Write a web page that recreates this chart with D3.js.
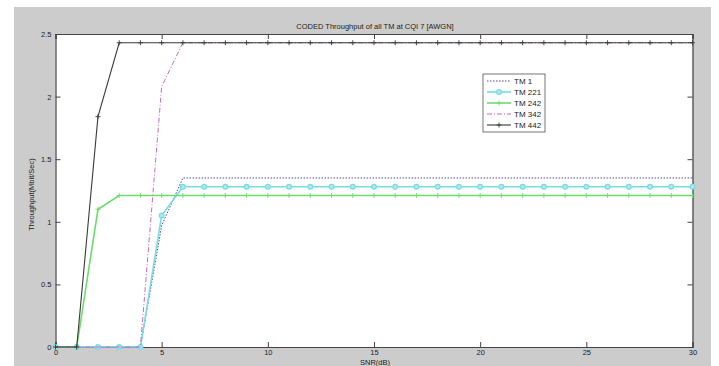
<!DOCTYPE html>
<html>
<head>
<meta charset="utf-8">
<script src="https://cdn.jsdelivr.net/npm/d3@7"></script>
<style>
  html, body { margin: 0; padding: 0; background: #ffffff; }
  svg { display: block; font-family: "Liberation Sans", Arial, sans-serif; }
</style>
</head>
<body>
<svg id="chart" width="719" height="366"></svg>
<script>
// ---- data ----
const snr = d3.range(0, 31); // 0..30 dB
const tm1   = [0, 0, 0, 0, 0, 0.97, 1.35].concat(Array(24).fill(1.35));
const tm221 = [0, 0, 0, 0, 0, 1.05, 1.28].concat(Array(24).fill(1.28));
const tm242 = [0, 0, 1.10, 1.21].concat(Array(27).fill(1.21));
const tm342 = [0, 0, 0, 0, 0, 2.08, 2.43].concat(Array(24).fill(2.43));
const tm442 = [0, 0, 1.84, 2.43].concat(Array(27).fill(2.43));
const seriesNames = ["TM 1", "TM 221", "TM 242", "TM 342", "TM 442"];
const xTicks = [0, 5, 10, 15, 20, 25, 30];
const yTicks = [0, 0.5, 1, 1.5, 2, 2.5];
const titleText = "CODED Throughput of all TM at CQI 7 [AWGN]";
const xLabel = "SNR(dB)";
const yLabel = "Throughput(Mbit/Sec)";

// ---- styles ----
const styles = [
  { values: tm1,   color: "#4a4aa0", width: 1, dash: "1.5,1.5", marker: null },
  { values: tm221, color: "#7adbe4", width: 1.6, dash: null, marker: "circle" },
  { values: tm242, color: "#6cdc6c", width: 1.6, dash: null, marker: "plus" },
  { values: tm342, color: "#c86ac8", width: 1, dash: "5,2,1,2", marker: null },
  { values: tm442, color: "#3a3a3a", width: 1.1, dash: null, marker: "plus" }
];

const svg = d3.select("#chart");
// figure background
svg.append("rect").attr("x", 14).attr("y", 7).attr("width", 697).attr("height", 359).attr("fill", "#cccccc");

const m = { left: 55.5, right: 692.5, top: 34, bottom: 347 };
const x = d3.scaleLinear().domain([0, 30]).range([m.left, m.right]);
const y = d3.scaleLinear().domain([0, 2.5]).range([m.bottom, m.top]);

svg.append("rect").attr("x", m.left).attr("y", m.top)
  .attr("width", m.right - m.left).attr("height", m.bottom - m.top).attr("fill", "#ffffff");

// title
svg.append("text").attr("x", (m.left + m.right) / 2 + 1).attr("y", 29)
  .attr("text-anchor", "middle").attr("font-size", 7.5).attr("fill", "#222").text(titleText);

// axes (MATLAB style, ticks inward)
const tickLen = 5;
const gx = svg.append("g").attr("transform", `translate(0,${m.bottom})`)
  .call(d3.axisBottom(x).tickValues(xTicks).tickSize(-tickLen).tickPadding(3).tickFormat(d3.format("d")));
const gxTop = svg.append("g").attr("transform", `translate(0,${m.top})`)
  .call(d3.axisTop(x).tickValues(xTicks).tickSize(-tickLen).tickFormat(""));
const gy = svg.append("g").attr("transform", `translate(${m.left},0)`)
  .call(d3.axisLeft(y).tickValues(yTicks).tickSize(-tickLen).tickPadding(4).tickFormat(d => d3.format("")(d)));
const gyR = svg.append("g").attr("transform", `translate(${m.right},0)`)
  .call(d3.axisRight(y).tickValues(yTicks).tickSize(-tickLen).tickFormat(""));
[gx, gxTop, gy, gyR].forEach(g => {
  g.select(".domain").attr("stroke", "#444").attr("stroke-width", 1.2);
  g.selectAll(".tick line").attr("stroke", "#444");
  g.selectAll("text").attr("font-size", 7.5).attr("fill", "#222").attr("font-family", "Liberation Sans, Arial, sans-serif");
});

// axis labels
svg.append("text").attr("x", (m.left + m.right) / 2 + 1).attr("y", 365)
  .attr("text-anchor", "middle").attr("font-size", 7.5).attr("fill", "#222").text(xLabel);
svg.append("text").attr("transform", `translate(34,${(m.top + m.bottom) / 2 + 4}) rotate(-90)`)
  .attr("text-anchor", "middle").attr("font-size", 7.5).attr("fill", "#222").text(yLabel);

// lines
const line = d3.line().x((d, i) => x(snr[i])).y(d => y(d));
const plot = svg.append("g");
function drawMarker(g, type, cx, cy, color) {
  if (type === "circle") {
    g.append("circle").attr("cx", cx).attr("cy", cy).attr("r", 2.4)
      .attr("fill", "#a8ecf0").attr("stroke", color).attr("stroke-width", 1.2);
  } else if (type === "plus") {
    g.append("path").attr("d", `M${cx - 2.5},${cy}H${cx + 2.5}M${cx},${cy - 2.5}V${cy + 2.5}`)
      .attr("stroke", color).attr("stroke-width", 0.9).attr("fill", "none");
  }
}
styles.forEach(s => {
  plot.append("path").datum(s.values).attr("d", line)
    .attr("fill", "none").attr("stroke", s.color).attr("stroke-width", s.width)
    .attr("stroke-dasharray", s.dash);
  if (s.marker) {
    const mg = plot.append("g");
    s.values.forEach((v, i) => drawMarker(mg, s.marker, x(snr[i]), y(v), s.color));
  }
});

// legend
const lg = svg.append("g").attr("transform", "translate(483,74)");
lg.append("rect").attr("width", 62).attr("height", 58).attr("fill", "#ffffff")
  .attr("stroke", "#555").attr("stroke-width", 0.8);
seriesNames.forEach((name, i) => {
  const s = styles[i];
  const yy = 7 + i * 11;
  lg.append("line").attr("x1", 4).attr("x2", 28).attr("y1", yy).attr("y2", yy)
    .attr("stroke", s.color).attr("stroke-width", s.width).attr("stroke-dasharray", s.dash);
  if (s.marker) drawMarker(lg, s.marker, 16, yy, s.color);
  lg.append("text").attr("x", 31).attr("y", yy + 3).attr("font-size", 8).attr("fill", "#222").text(name);
});
</script>
</body>
</html>
